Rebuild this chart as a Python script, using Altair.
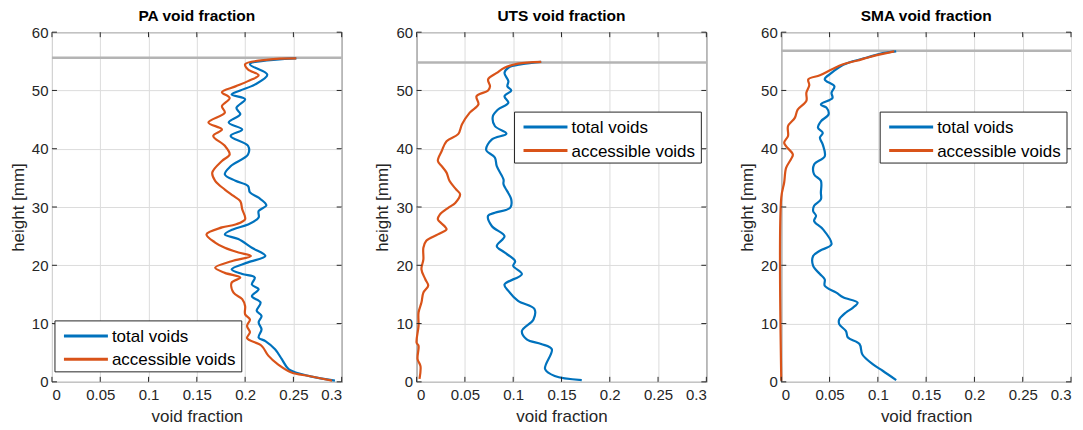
import altair as alt
import pandas as pd

# ---------------- data ----------------
pa_total_h = [55.5, 54.5, 52.7, 51.0, 50.0, 49.3, 48.5, 47.0, 45.9, 44.5, 43.3, 42.2, 40.5, 39.0, 37.0, 35.6,
              34.5, 33.6, 32.5, 31.6, 30.3, 29.3, 28.2, 27.0, 26.2, 25.3, 24.5, 23.0, 21.6, 20.5, 19.3, 18.5,
              17.9, 16.7, 15.9, 14.7, 13.6, 12.2, 11.3, 10.2, 9.0, 7.6, 7.0, 5.6, 3.9, 2.2, 1.3, 0.9, 0.2]
pa_total_v = [0.253, 0.205, 0.223, 0.210, 0.195, 0.186, 0.200, 0.191, 0.195, 0.183, 0.197, 0.185, 0.203, 0.203,
              0.185, 0.179, 0.190, 0.203, 0.205, 0.214, 0.222, 0.214, 0.214, 0.203, 0.188, 0.179, 0.193, 0.207,
              0.221, 0.203, 0.186, 0.197, 0.210, 0.207, 0.214, 0.207, 0.216, 0.212, 0.217, 0.214, 0.217, 0.214,
              0.221, 0.231, 0.238, 0.245, 0.259, 0.269, 0.293]
pa_acc_h = [55.5, 55.3, 54.5, 53.6, 52.6, 51.6, 50.7, 49.7, 48.7, 47.3, 46.2, 44.5, 43.3, 42.2, 40.5, 39.0,
            37.9, 35.9, 34.5, 33.0, 31.9, 31.0, 29.6, 27.9, 27.0, 26.5, 25.3, 23.9, 23.0, 22.2, 21.6, 20.7,
            19.6, 18.7, 17.9, 17.0, 15.3, 14.2, 13.0, 11.6, 10.7, 9.6, 8.5, 7.5, 6.2, 4.5, 3.0, 1.6, 1.0, 0.2]
pa_acc_v = [0.253, 0.224, 0.200, 0.203, 0.214, 0.203, 0.190, 0.176, 0.184, 0.176, 0.179, 0.162, 0.176, 0.167,
            0.179, 0.184, 0.176, 0.166, 0.169, 0.179, 0.188, 0.195, 0.197, 0.200, 0.190, 0.176, 0.160, 0.169,
            0.179, 0.193, 0.206, 0.186, 0.169, 0.179, 0.195, 0.186, 0.188, 0.197, 0.200, 0.200, 0.205, 0.202,
            0.205, 0.202, 0.217, 0.224, 0.234, 0.248, 0.266, 0.290]

uts_total_h = [54.9, 54.5, 53.9, 53.0, 51.6, 50.7, 50.0, 49.0, 47.9, 46.7, 45.6, 43.9, 42.6, 41.6, 39.8, 38.5,
               37.0, 34.7, 33.9, 31.3, 29.9, 29.0, 28.5, 26.7, 25.0, 23.3, 22.2, 20.7, 19.9, 18.5, 16.7, 15.6,
               13.9, 12.5, 10.7, 8.7, 7.3, 6.5, 5.6, 2.2, 1.0, 0.3]
uts_total_v = [0.129, 0.109, 0.095, 0.091, 0.095, 0.094, 0.098, 0.091, 0.095, 0.084, 0.079, 0.081, 0.093, 0.078,
               0.072, 0.081, 0.083, 0.090, 0.090, 0.098, 0.097, 0.081, 0.074, 0.078, 0.091, 0.083, 0.091, 0.102,
               0.100, 0.109, 0.091, 0.095, 0.105, 0.122, 0.121, 0.109, 0.114, 0.129, 0.140, 0.133, 0.143, 0.171]
uts_acc_h = [54.9, 54.6, 53.9, 53.0, 51.9, 50.7, 50.0, 49.0, 47.6, 46.2, 44.2, 42.5, 41.3, 39.6, 37.9, 37.0,
             35.9, 34.5, 33.0, 32.2, 30.7, 29.9, 28.7, 27.9, 26.7, 26.2, 25.3, 24.2, 23.0, 21.0, 19.3, 17.6,
             16.5, 15.3, 13.6, 11.9, 9.6, 6.7, 6.2, 3.9, 2.7, 0.5]
uts_acc_v = [0.129, 0.105, 0.091, 0.083, 0.074, 0.076, 0.074, 0.062, 0.064, 0.055, 0.047, 0.043, 0.031, 0.026,
             0.022, 0.026, 0.031, 0.034, 0.041, 0.045, 0.040, 0.033, 0.024, 0.022, 0.029, 0.031, 0.022, 0.010,
             0.007, 0.007, 0.005, 0.009, 0.012, 0.007, 0.005, 0.002, 0.002, 0.000, 0.002, 0.001, 0.004, 0.003]

sma_total_h = [56.7, 56.3, 55.6, 55.0, 54.2, 53.0, 51.9, 50.7, 49.6, 48.7, 47.6, 47.0, 45.9, 44.7, 43.6, 42.7,
               41.9, 40.7, 38.7, 37.3, 35.6, 34.5, 32.5, 31.3, 30.2, 29.3, 28.5, 27.6, 26.2, 23.6, 22.5, 21.6,
               19.9, 18.5, 17.6, 16.5, 15.3, 14.5, 13.6, 12.7, 11.9, 10.7, 9.9, 8.7, 7.6, 6.5, 4.7, 3.0, 1.9, 0.3]
sma_total_v = [0.119, 0.102, 0.088, 0.074, 0.062, 0.052, 0.045, 0.055, 0.052, 0.053, 0.041, 0.047, 0.049, 0.041,
               0.038, 0.043, 0.040, 0.043, 0.045, 0.034, 0.034, 0.041, 0.041, 0.041, 0.034, 0.033, 0.036, 0.034,
               0.043, 0.052, 0.040, 0.033, 0.033, 0.040, 0.045, 0.045, 0.057, 0.064, 0.079, 0.074, 0.067, 0.060,
               0.060, 0.067, 0.069, 0.081, 0.084, 0.095, 0.105, 0.119]
sma_acc_h = [56.7, 55.9, 55.1, 54.5, 53.6, 52.6, 51.9, 50.9, 49.6, 48.2, 46.7, 45.3, 43.9, 42.2, 41.0, 39.0,
             38.2, 36.7, 34.2, 31.6, 0.2]
sma_acc_v = [0.117, 0.095, 0.078, 0.064, 0.052, 0.040, 0.028, 0.029, 0.026, 0.026, 0.017, 0.014, 0.007, 0.007,
             0.003, 0.012, 0.010, 0.005, 0.003, 0.000, 0.000]

titles = ["PA void fraction", "UTS void fraction", "SMA void fraction"]
surface_heights = [55.6, 54.8, 56.8]
series_names = ["total voids", "accessible voids"]
x_ticks = [0, 0.05, 0.1, 0.15, 0.2, 0.25, 0.3]
y_ticks = [0, 10, 20, 30, 40, 50, 60]

panels = [
    (pa_total_h, pa_total_v, pa_acc_h, pa_acc_v),
    (uts_total_h, uts_total_v, uts_acc_h, uts_acc_v),
    (sma_total_h, sma_total_v, sma_acc_h, sma_acc_v),
]
# legend box placement inside each plot area (pixels from plot's top-left): box left, box top
legend_pos = [(3, 289), (98, 80), (99, 80)]
LEG_W, LEG_H = 187, 51

FONT = "Liberation Sans"
BLUE = "#0072BD"
ORANGE = "#D95319"
COLORS = [BLUE, ORANGE]
AXC = "#262626"
W, H = 290, 350
TICK = 5


def make_legend(i):
    lx, ly = legend_pos[i]
    one = pd.DataFrame({"k": [0]})
    layers = [
        alt.Chart(one).mark_rect(fill="white", stroke=AXC, strokeWidth=1).encode(
            x=alt.value(lx), x2=alt.value(lx + LEG_W),
            y=alt.value(ly), y2=alt.value(ly + LEG_H))
    ]
    for r, name in enumerate(series_names):
        yy = ly + 15 + r * 23.5
        layers.append(
            alt.Chart(one).mark_rule(color=COLORS[r], strokeWidth=3).encode(
                x=alt.value(lx + 9), x2=alt.value(lx + 53), y=alt.value(yy))
        )
        layers.append(
            alt.Chart(pd.DataFrame({"label": [name]})).mark_text(
                align="left", baseline="middle", font=FONT, fontSize=17, color="#000000"
            ).encode(x=alt.value(lx + 57), y=alt.value(yy + 1), text="label:N")
        )
    return layers


def make_ticks(xscale, yscale):
    xt = pd.DataFrame({"t": x_ticks})
    yt = pd.DataFrame({"t": y_ticks})
    return [
        alt.Chart(xt).mark_rule(color=AXC, strokeWidth=1).encode(
            x=alt.X("t:Q", scale=xscale), y=alt.value(H), y2=alt.value(H - TICK)),
        alt.Chart(xt).mark_rule(color=AXC, strokeWidth=1).encode(
            x=alt.X("t:Q", scale=xscale), y=alt.value(0), y2=alt.value(TICK)),
        alt.Chart(yt).mark_rule(color=AXC, strokeWidth=1).encode(
            y=alt.Y("t:Q", scale=yscale), x=alt.value(0), x2=alt.value(TICK)),
        alt.Chart(yt).mark_rule(color=AXC, strokeWidth=1).encode(
            y=alt.Y("t:Q", scale=yscale), x=alt.value(W), x2=alt.value(W - TICK)),
    ]


def make_panel(i):
    th, tv, ah, av = panels[i]
    rows = []
    for k, (h, v) in enumerate(zip(th, tv)):
        rows.append({"series": series_names[0], "h": h, "v": v, "idx": k})
    for k, (h, v) in enumerate(zip(ah, av)):
        rows.append({"series": series_names[1], "h": h, "v": v, "idx": k})
    df = pd.DataFrame(rows)

    xscale = alt.Scale(domain=[0, 0.3], nice=False)
    yscale = alt.Scale(domain=[0, 60], nice=False)

    surface = alt.Chart(pd.DataFrame({"h": [surface_heights[i]]})).mark_rule(
        color="#b4b4b4", strokeWidth=2.5
    ).encode(y=alt.Y("h:Q", scale=yscale))

    lines = alt.Chart(df).mark_line(strokeWidth=2.2, interpolate="catmull-rom").encode(
        x=alt.X("v:Q", scale=xscale, title="void fraction",
                axis=alt.Axis(values=x_ticks, format="~g")),
        y=alt.Y("h:Q", scale=yscale, title="height [mm]",
                axis=alt.Axis(values=y_ticks)),
        color=alt.Color("series:N",
                        scale=alt.Scale(domain=series_names, range=COLORS),
                        legend=None),
        order=alt.Order("idx:Q"),
        detail="series:N",
    )

    return alt.layer(surface, lines, *make_ticks(xscale, yscale), *make_legend(i)).properties(
        width=W, height=H,
        title=alt.TitleParams(titles[i], fontSize=15.5, font=FONT, fontWeight="bold",
                              color="#000000", offset=1),
    )


chart = alt.hconcat(*[make_panel(i) for i in range(3)], spacing=29).resolve_scale(
    color="independent"
).configure_view(
    stroke=AXC, strokeWidth=1
).configure_axis(
    labelFont=FONT, titleFont=FONT, labelFontSize=15, titleFontSize=17,
    labelColor=AXC, titleColor=AXC, titleFontWeight="normal",
    gridColor="#dcdcdc", gridWidth=1, domain=False, ticks=False,
).configure_axisY(titlePadding=4, labelPadding=4).configure_axisX(
    titlePadding=6, labelPadding=6
).properties(
    padding={"left": 0, "top": 0, "right": 2, "bottom": 0}
)

chart.save("out.html", embed_options={"renderer": "svg", "actions": False})
